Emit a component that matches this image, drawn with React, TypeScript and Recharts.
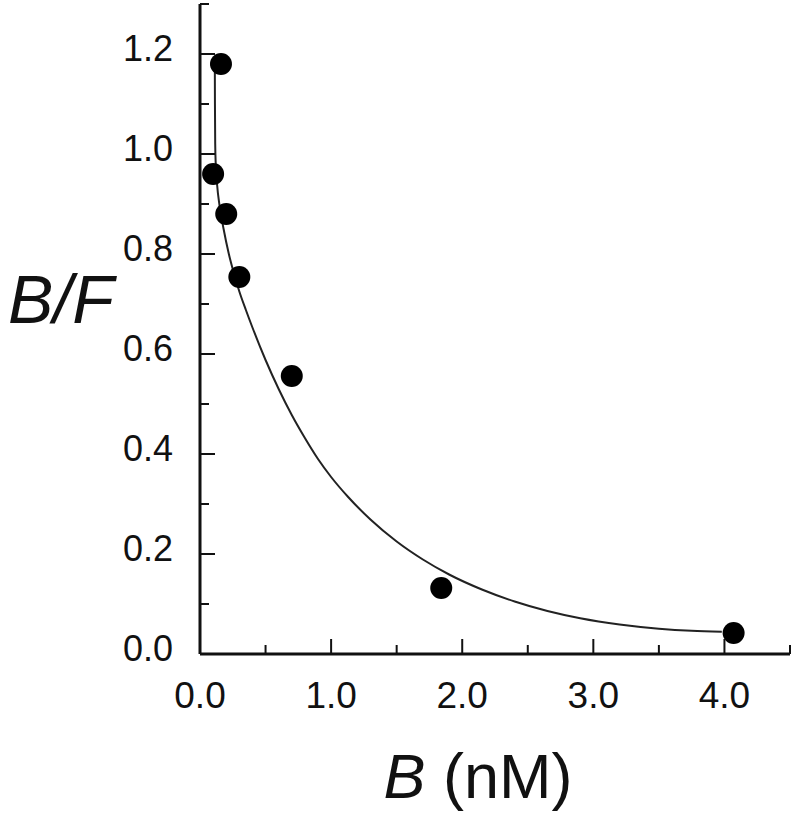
import React from 'react';
import { ComposedChart, Line, Scatter, XAxis, YAxis } from 'recharts';

// measured points (B in nM, B/F)
const points = [
  { x: 0.10, y: 0.96 },
  { x: 0.16, y: 1.18 },
  { x: 0.20, y: 0.88 },
  { x: 0.30, y: 0.754 },
  { x: 0.70, y: 0.556 },
  { x: 1.84, y: 0.132 },
  { x: 4.07, y: 0.042 },
];

// fitted curve
const curveB = [0.113, 0.114, 0.116, 0.12, 0.13, 0.15, 0.18, 0.22, 0.26, 0.3, 0.35, 0.4, 0.5, 0.6, 0.7, 0.8, 0.9, 1.0, 1.13, 1.3, 1.5, 1.7, 1.9, 2.15, 2.4, 2.65, 2.9, 3.2, 3.5, 3.75, 3.98];
const curveBF = [1.18, 1.1, 1.02, 0.98, 0.94, 0.895, 0.85, 0.8, 0.76, 0.725, 0.688, 0.653, 0.588, 0.53, 0.478, 0.432, 0.39, 0.354, 0.314, 0.269, 0.225, 0.189, 0.159, 0.129, 0.105, 0.086, 0.0715, 0.059, 0.0506, 0.0464, 0.0446];
const curve = curveB.map((b, i) => ({ x: b, y: curveBF[i] }));

const xTicks = [0, 0.5, 1, 1.5, 2, 2.5, 3, 3.5, 4, 4.5];
const xLabels = [0, 1, 2, 3, 4];
const yTicks = [0, 0.1, 0.2, 0.3, 0.4, 0.5, 0.6, 0.7, 0.8, 0.9, 1.0, 1.1, 1.2, 1.3];
const yLabels = [0, 0.2, 0.4, 0.6, 0.8, 1.0, 1.2];

const font = '"Liberation Sans", Arial, sans-serif';
const isLabel = (v: number, list: number[]) => list.some(l => Math.abs(l - v) < 1e-6);

const XTick = (props: any) => {
  const { x, y, payload } = props;
  const major = isLabel(payload.value, xLabels);
  return (
    <g>
      <line x1={x} x2={x} y1={y} y2={y - (major ? 15 : 9)} stroke="#111" strokeWidth={2} />
      {major && (
        <text x={x} y={y + 54} textAnchor="middle" fontSize={37} fontFamily={font} fill="#111">
          {payload.value.toFixed(1)}
        </text>
      )}
    </g>
  );
};

const YTick = (props: any) => {
  const { x, y, payload } = props;
  const major = isLabel(payload.value, yLabels);
  return (
    <g>
      <line x1={x} x2={x + (major ? 15 : 9)} y1={y} y2={y} stroke="#111" strokeWidth={2} />
      {major && (
        <text x={x - 27} y={y + 7} textAnchor="end" fontSize={36} fontFamily={font} fill="#111">
          {payload.value.toFixed(1)}
        </text>
      )}
    </g>
  );
};

const Dot = (props: any) => <circle cx={props.cx} cy={props.cy} r={11} fill="#000" />;

const App = () => {
  return (
    <div style={{ position: 'absolute', left: 0, top: 0, width: 800, height: 822, background: '#fff' }}>
      <ComposedChart width={800} height={822} margin={{ top: 4, right: 10, bottom: 68, left: 0 }}>
        <XAxis
          type="number"
          dataKey="x"
          domain={[0, 4.5]}
          ticks={xTicks}
          interval={0}
          height={100}
          tickSize={0}
          tickMargin={0}
          tickLine={false}
          axisLine={{ stroke: '#111', strokeWidth: 3 }}
          tick={<XTick />}
        />
        <YAxis
          type="number"
          dataKey="y"
          domain={[0, 1.3]}
          ticks={yTicks}
          interval={0}
          width={200}
          tickSize={0}
          tickMargin={0}
          tickLine={false}
          axisLine={{ stroke: '#111', strokeWidth: 3 }}
          tick={<YTick />}
        />
        <Line
          data={curve}
          dataKey="y"
          type="monotone"
          stroke="#222"
          strokeWidth={2}
          dot={false}
          activeDot={false}
          isAnimationActive={false}
        />
        <Scatter data={points} dataKey="y" shape={<Dot />} isAnimationActive={false} />
        <text x={8} y={323} fontSize={68} fontStyle="italic" fontFamily={font} fill="#111">
          B/F
        </text>
        <text x={478} y={798} textAnchor="middle" fontSize={63} fontFamily={font} fill="#111">
          <tspan fontStyle="italic">B</tspan> (nM)
        </text>
      </ComposedChart>
    </div>
  );
};

export default App;
